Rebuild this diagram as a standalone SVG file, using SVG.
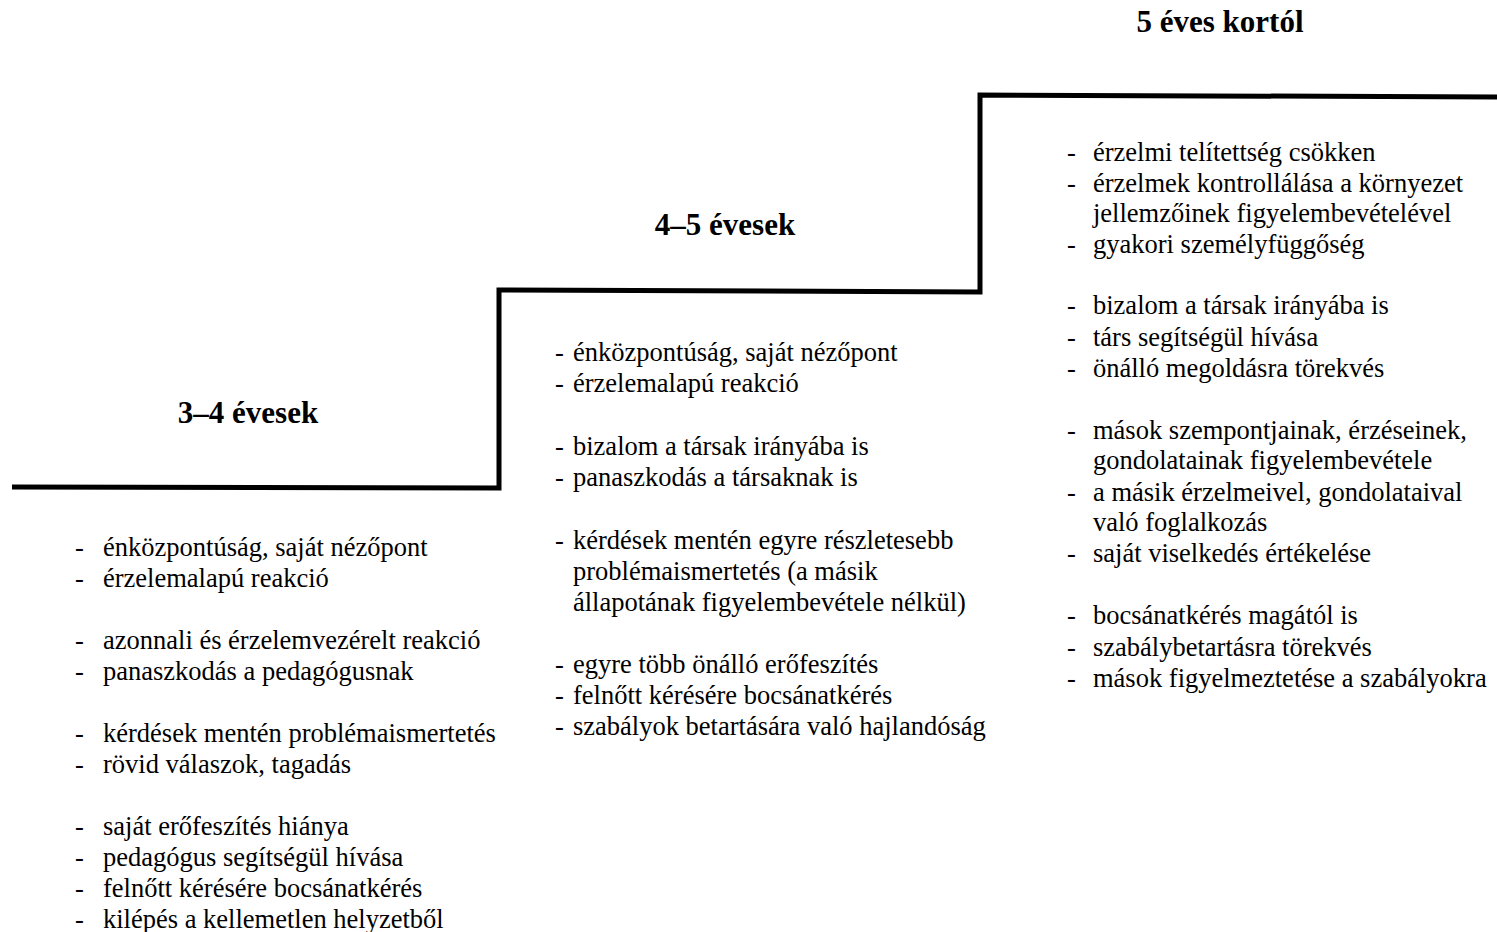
<svg xmlns="http://www.w3.org/2000/svg" width="1497" height="932" viewBox="0 0 1497 932">
<style>
.h{font-family:"Liberation Serif","Times New Roman",serif;font-weight:bold;font-size:31px;fill:#000;text-anchor:middle}
.t{font-family:"Liberation Serif","Times New Roman",serif;font-size:26.5px;fill:#000}
.stair{fill:none;stroke:#000;stroke-width:5;stroke-linejoin:miter}
</style>
<rect width="1497" height="932" fill="#fff"/>
<g id="connectors">
<path class="stair" d="M12,487 L499,488 L499,290 L980,292 L980,95 L1497,97"/>
</g>
<g id="stage1">
<text class="h" x="248" y="423">3–4 évesek</text>
<g class="t">
<text x="75" y="556">-</text><text x="103" y="556">énközpontúság, saját nézőpont</text>
<text x="75" y="587">-</text><text x="103" y="587">érzelemalapú reakció</text>
<text x="75" y="649">-</text><text x="103" y="649">azonnali és érzelemvezérelt reakció</text>
<text x="75" y="680">-</text><text x="103" y="680">panaszkodás a pedagógusnak</text>
<text x="75" y="742">-</text><text x="103" y="742">kérdések mentén problémaismertetés</text>
<text x="75" y="773">-</text><text x="103" y="773">rövid válaszok, tagadás</text>
<text x="75" y="835">-</text><text x="103" y="835">saját erőfeszítés hiánya</text>
<text x="75" y="866">-</text><text x="103" y="866">pedagógus segítségül hívása</text>
<text x="75" y="897">-</text><text x="103" y="897">felnőtt kérésére bocsánatkérés</text>
<text x="75" y="928">-</text><text x="103" y="928">kilépés a kellemetlen helyzetből</text>
</g>
</g>
<g id="stage2">
<text class="h" x="725" y="235">4–5 évesek</text>
<g class="t">
<text x="555" y="361">-</text><text x="573" y="361">énközpontúság, saját nézőpont</text>
<text x="555" y="392">-</text><text x="573" y="392">érzelemalapú reakció</text>
<text x="555" y="455">-</text><text x="573" y="455">bizalom a társak irányába is</text>
<text x="555" y="486">-</text><text x="573" y="486">panaszkodás a társaknak is</text>
<text x="555" y="549">-</text><text x="573" y="549">kérdések mentén egyre részletesebb</text>
<text x="573" y="580">problémaismertetés (a másik</text>
<text x="573" y="611">állapotának figyelembevétele nélkül)</text>
<text x="555" y="673">-</text><text x="573" y="673">egyre több önálló erőfeszítés</text>
<text x="555" y="704">-</text><text x="573" y="704">felnőtt kérésére bocsánatkérés</text>
<text x="555" y="735">-</text><text x="573" y="735">szabályok betartására való hajlandóság</text>
</g>
</g>
<g id="stage3">
<text class="h" x="1220" y="32">5 éves kortól</text>
<g class="t">
<text x="1067" y="161">-</text><text x="1093" y="161">érzelmi telítettség csökken</text>
<text x="1067" y="192">-</text><text x="1093" y="192">érzelmek kontrollálása a környezet</text>
<text x="1093" y="222">jellemzőinek figyelembevételével</text>
<text x="1067" y="253">-</text><text x="1093" y="253">gyakori személyfüggőség</text>
<text x="1067" y="314">-</text><text x="1093" y="314">bizalom a társak irányába is</text>
<text x="1067" y="346">-</text><text x="1093" y="346">társ segítségül hívása</text>
<text x="1067" y="377">-</text><text x="1093" y="377">önálló megoldásra törekvés</text>
<text x="1067" y="439">-</text><text x="1093" y="439">mások szempontjainak, érzéseinek,</text>
<text x="1093" y="469">gondolatainak figyelembevétele</text>
<text x="1067" y="501">-</text><text x="1093" y="501">a másik érzelmeivel, gondolataival</text>
<text x="1093" y="531">való foglalkozás</text>
<text x="1067" y="562">-</text><text x="1093" y="562">saját viselkedés értékelése</text>
<text x="1067" y="624">-</text><text x="1093" y="624">bocsánatkérés magától is</text>
<text x="1067" y="656">-</text><text x="1093" y="656">szabálybetartásra törekvés</text>
<text x="1067" y="687">-</text><text x="1093" y="687">mások figyelmeztetése a szabályokra</text>
</g>
</g>
</svg>
